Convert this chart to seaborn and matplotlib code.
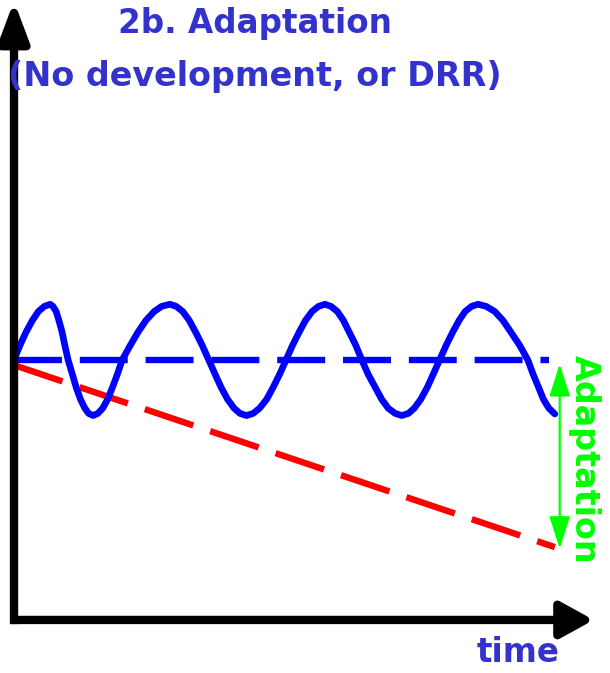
import matplotlib
matplotlib.use("Agg")
import matplotlib.pyplot as plt
import seaborn as sns

sns.set_style("white")
plt.rcParams['font.family'] = ['DejaVu Sans']

# hazard level without development: oscillates around the baseline
wave_t = [0, 0.11, 0.22, 0.34, 0.45, 0.56, 0.67,
          0.72, 0.78, 0.83, 0.89, 0.94, 1.0,
          1.08, 1.15, 1.23, 1.31, 1.38, 1.46,
          1.55, 1.64, 1.73, 1.82, 1.91, 2.0,
          2.15, 2.29, 2.44, 2.59, 2.73, 2.88,
          3.0, 3.12, 3.24, 3.36, 3.48, 3.6,
          3.72, 3.83, 3.95, 4.07, 4.18, 4.3,
          4.42, 4.54, 4.67, 4.79, 4.91, 5.03,
          5.15, 5.27, 5.39, 5.51, 5.63, 5.75,
          5.86, 5.98, 6.09, 6.2, 6.32, 6.43,
          6.55, 6.68, 6.8, 6.92, 7.05, 7.17,
          7.29, 7.4, 7.52, 7.64, 7.75, 7.87,
          7.99, 8.11, 8.23, 8.34, 8.46, 8.58,
          8.73, 8.89, 9.04, 9.19, 9.35, 9.5,
          9.6, 9.7, 9.79, 9.89, 10.0]
wave_level = [5.0, 5.28, 5.53, 5.76, 5.93, 6.03, 6.07,
              6.03, 5.93, 5.76, 5.53, 5.28, 5.0,
              4.72, 4.47, 4.24, 4.07, 3.97, 3.93,
              3.97, 4.07, 4.24, 4.47, 4.72, 5.0,
              5.28, 5.53, 5.76, 5.93, 6.03, 6.07,
              6.03, 5.93, 5.76, 5.53, 5.28, 5.0,
              4.72, 4.47, 4.24, 4.07, 3.97, 3.93,
              3.97, 4.07, 4.24, 4.47, 4.72, 5.0,
              5.28, 5.53, 5.76, 5.93, 6.03, 6.07,
              6.03, 5.93, 5.76, 5.53, 5.28, 5.0,
              4.72, 4.47, 4.24, 4.07, 3.97, 3.93,
              3.97, 4.07, 4.24, 4.47, 4.72, 5.0,
              5.28, 5.53, 5.76, 5.93, 6.03, 6.07,
              6.03, 5.93, 5.76, 5.53, 5.28, 5.0,
              4.72, 4.47, 4.24, 4.07, 3.96]

# baseline and declining trend
baseline_t = [0, 9.9]
baseline_level = [5.0, 5.0]
trend_t = [0, 10.0]
trend_level = [4.9, 1.4]

# adaptation gap marker
gap_t = 10.09
gap_top = 4.92
gap_bottom = 1.37

title_lines = ["2b. Adaptation", "(No development, or DRR)"]
x_label = "time"
gap_label = "Adaptation"

title_color = "#3333CC"
wave_color = "#0000FF"
trend_color = "#FF0000"
gap_color = "#00FF00"

fig = plt.figure(figsize=(6.1, 6.73), dpi=100)
ax = fig.add_axes([0, 0, 1, 1])
ax.set_xlim(-0.259, 11.02)
ax.set_ylim(-1.02, 11.92)
ax.axis("off")

# axes drawn as arrows, meeting in a square corner
ax.annotate("", xy=(0, 11.9), xytext=(0, -0.08),
            arrowprops=dict(arrowstyle="-|>,head_length=1.2,head_width=0.45",
                            lw=6, color="black", mutation_scale=20,
                            shrinkA=0, shrinkB=0, capstyle="butt"))
ax.annotate("", xy=(10.72, 0), xytext=(-0.074, 0),
            arrowprops=dict(arrowstyle="-|>,head_length=1.0,head_width=0.55",
                            lw=6, color="black", mutation_scale=20,
                            shrinkA=0, shrinkB=0, capstyle="butt"))

sns.lineplot(x=baseline_t, y=baseline_level, ax=ax, color=wave_color, lw=4.6, sort=False)
ax.lines[-1].set_dashes([7.5, 2.8])
ax.lines[-1].set_dash_capstyle("butt")
sns.lineplot(x=trend_t, y=trend_level, ax=ax, color=trend_color, lw=4.6, sort=False)
ax.lines[-1].set_dashes([8, 2.8])
ax.lines[-1].set_dash_capstyle("butt")
sns.lineplot(x=wave_t, y=wave_level, ax=ax, color=wave_color, lw=4.8, sort=False)
ax.lines[-1].set_solid_joinstyle("round")

ax.annotate("", xy=(gap_t, gap_top), xytext=(gap_t, gap_bottom),
            arrowprops=dict(arrowstyle="<|-|>,head_length=1.0,head_width=0.32",
                            lw=1.6, color=gap_color, mutation_scale=20,
                            shrinkA=0, shrinkB=0))
ax.text(10.55, (gap_top + gap_bottom) / 2 - 0.05, gap_label, rotation=-90,
        ha="center", va="center", color=gap_color, fontsize=24, fontweight="bold")

ax.text(4.45, 11.46, title_lines[0], ha="center", va="center",
        color=title_color, fontsize=23.5, fontweight="bold")
ax.text(4.45, 10.44, title_lines[1], ha="center", va="center",
        color=title_color, fontsize=24, fontweight="bold")
ax.text(9.33, -0.62, x_label, ha="center", va="center",
        color=title_color, fontsize=23.5, fontweight="bold")

fig.savefig("out.png", dpi=100)
